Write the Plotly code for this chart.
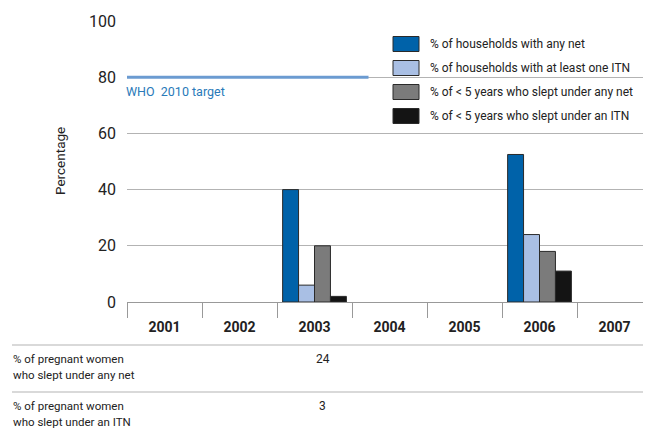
import plotly.graph_objects as go

years = ["2001", "2002", "2003", "2004", "2005", "2006", "2007"]
series_names = [
    "% of households with any net",
    "% of households with at least one ITN",
    "% of < 5 years who slept under any net",
    "% of < 5 years who slept under an ITN",
]
hh_any_net = [None, None, 40, None, None, 52.5, None]
hh_itn = [None, None, 6, None, None, 24, None]
u5_any_net = [None, None, 20, None, None, 18, None]
u5_itn = [None, None, 2, None, None, 11, None]
series_values = [hh_any_net, hh_itn, u5_any_net, u5_itn]
series_colors = ["#0062a9", "#a9bfe4", "#7b7b7b", "#141414"]

target_value = 80
target_label = "WHO  2010 target"

table_rows = [("% of pregnant women", "who slept under any net"),
              ("% of pregnant women", "who slept under an ITN")]
table_values = [{"2003": "24"}, {"2003": "3"}]

FONT = "Roboto, sans-serif"
TXT = "#222"

# page offset (body margin) and plot-area geometry in figure pixels
OFF = 8
L, R, T, B = 119, 7, 13, 136
W, H = 651, 430
PW, PH = W - L - R, H - T - B


def px(x):
    """screen x -> paper"""
    return (x - OFF - L) / PW


def py(y):
    """screen y -> paper"""
    return (H - B - (y - OFF)) / PH


fig = go.Figure()
for name, vals, col in zip(series_names, series_values, series_colors):
    fig.add_trace(go.Bar(x=years, y=vals, name=name, showlegend=False,
                         marker=dict(color=col, line=dict(color="#2a2a2a", width=1))))

fig.update_layout(
    width=W, height=H,
    margin=dict(l=L, r=R, t=T, b=B, autoexpand=False),
    paper_bgcolor="white", plot_bgcolor="white",
    font=dict(family=FONT, color=TXT),
    barmode="group", bargap=0.15, bargroupgap=0,
    showlegend=False,
)
fig.update_xaxes(type="category", showgrid=False, tickson="boundaries",
                 ticks="outside", ticklen=15, tickcolor="#999", tickwidth=1,
                 showline=True, linecolor="#999", linewidth=1,
                 ticklabelstandoff=12,
                 tickfont=dict(size=14, family=FONT, color=TXT, weight="bold"),
                 range=[-0.5, 6.5], fixedrange=True)
fig.update_yaxes(range=[0, 100], dtick=20, showgrid=True, gridcolor="#b3b3b3",
                 gridwidth=1, zeroline=False, showline=False, ticks="",
                 ticklabelstandoff=10,
                 tickfont=dict(size=16, family=FONT, color=TXT))
fig.add_annotation(xref="paper", yref="paper", x=px(60), y=py(161), text="Percentage",
                   textangle=-90, showarrow=False, xanchor="center", yanchor="middle",
                   font=dict(size=13.5, family=FONT, color=TXT))

# WHO target line
fig.add_shape(type="line", xref="x", yref="y", x0=-0.5, x1=2.72,
              y0=target_value, y1=target_value,
              line=dict(color="#6b9bd1", width=3))
fig.add_annotation(xref="paper", yref="y", x=px(124), y=target_value, yshift=-5,
                   text=target_label, showarrow=False, xanchor="left", yanchor="top",
                   font=dict(size=12.5, family=FONT, color="#2a7ab9"))

# Legend (drawn manually to match swatch size)
leg_rows = [44, 68, 92, 116]
for yc, name, col in zip(leg_rows, series_names, series_colors):
    fig.add_shape(type="rect", xref="paper", yref="paper",
                  x0=px(393), x1=px(419), y0=py(yc + 7.5), y1=py(yc - 7.5),
                  fillcolor=col, line=dict(color="#2a2a2a", width=1))
    fig.add_annotation(xref="paper", yref="paper", x=px(428), y=py(yc),
                       text=name.replace("<", "&lt;"), showarrow=False,
                       xanchor="left", yanchor="middle",
                       font=dict(size=12, family=FONT, color=TXT))

# Table below chart
row_tops = [345, 392]
for top in row_tops:
    fig.add_shape(type="line", xref="paper", yref="paper",
                  x0=px(12), x1=px(660), y0=py(top), y1=py(top),
                  line=dict(color="#b3b3b3", width=1))
for top, lines, vals in zip(row_tops, table_rows, table_values):
    for i, line in enumerate(lines):
        fig.add_annotation(xref="paper", yref="paper", x=px(11), y=py(top + 14 + 16 * i),
                           text=line, showarrow=False, xanchor="left", yanchor="middle",
                           font=dict(size=11.5, family=FONT, color=TXT))
    for yr, v in vals.items():
        fig.add_annotation(xref="paper", yref="paper",
                           x=(years.index(yr) + 0.5) / len(years), xshift=8,
                           y=py(top + 14),
                           text=v, showarrow=False, xanchor="center", yanchor="middle",
                           font=dict(size=12, family=FONT, color=TXT))

fig.write_html("out.html")
